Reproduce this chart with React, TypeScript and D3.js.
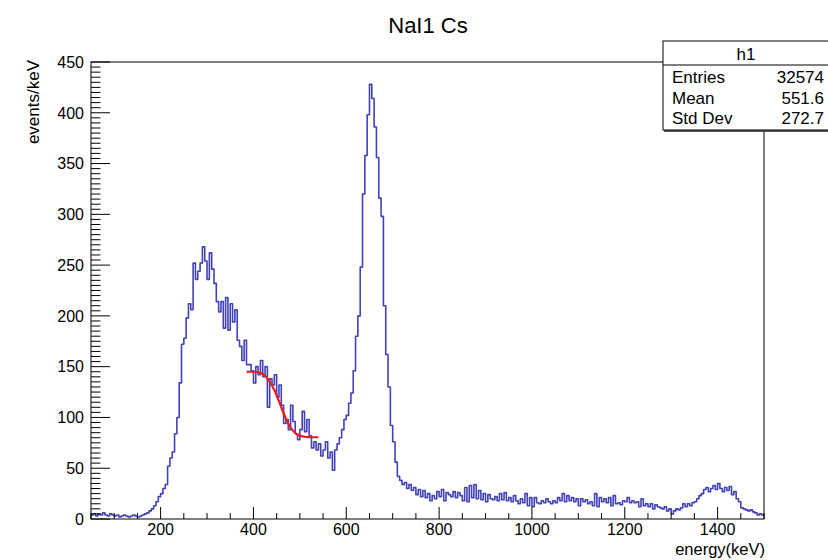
import React, { useEffect, useRef } from "react";
import * as d3 from "d3";

// histogram binning (keV)
const histMin = 50;
const histMax = 1500;
const binWidth = 5;

// bin contents, 5 keV bins starting at 50 keV
const lowCounts = [
  4, 5, 3, 5, 4, 6, 4, 3, 5, 4,
  3, 4, 2, 3, 4, 3, 2, 3, 4, 3,
  2, 3, 4, 5, 6, 8, 10, 13, 17, 22,
];
const comptonCounts = [
  25, 30, 34, 52, 60, 66, 84, 100, 134, 172,
  178, 198, 212, 206, 252, 236, 244, 252, 268, 254,
  236, 262, 246, 232, 214, 204, 214, 188, 218, 186,
  212, 194, 206, 176, 170, 156, 176, 152, 152, 146,
  134, 150, 142, 156, 140, 150, 110, 138, 132, 142,
  120, 132, 112, 94, 98, 88, 112, 96, 84, 78,
  88, 106, 86, 98, 82, 70, 76, 68, 74, 62,
  68, 76, 60, 66, 48, 68, 74, 80, 88, 98,
];
const photopeakCounts = [
  102, 114, 124, 146, 180, 200, 248, 320, 358, 398,
  428, 414, 386, 356, 316, 298, 210, 162, 130, 92,
  76, 56, 42, 38, 34, 36, 30, 34, 28, 31,
];
const tailCounts = [
  24, 29, 22, 28, 21, 25, 18, 23, 20, 27,
  22, 29, 18, 26, 24, 22, 27, 21, 26, 23,
  18, 31, 17, 33, 21, 34, 20, 28, 19, 25,
  17, 24, 20, 19, 22, 18, 25, 19, 26, 18,
  21, 17, 23, 18, 15, 20, 16, 25, 13, 21,
  12, 21, 16, 15, 18, 16, 20, 17, 15, 18,
  16, 21, 18, 25, 17, 23, 18, 21, 17, 20,
  13, 20, 17, 19, 15, 17, 13, 25, 12, 21,
  17, 20, 16, 21, 13, 23, 15, 16, 14, 18,
  17, 21, 16, 18, 16, 17, 12, 20, 13, 15,
  12, 15, 10, 14, 12, 11, 10, 12, 8, 10,
  5, 8, 10, 9, 11, 15, 12, 15, 13, 16,
  17, 20, 23, 25, 29, 31, 27, 30, 33, 29,
  35, 30, 27, 31, 28, 32, 24, 27, 20, 17,
  11, 10, 9, 8, 9, 7, 6, 4, 5, 4,
];

// red fit curve
const fitEnergy = [385, 400, 415, 425, 435, 445, 455, 465, 475, 485, 495, 510, 525, 540];
const fitValue = [145, 145, 144, 141, 135, 127, 116, 104, 94, 87, 83, 81, 80.5, 80.5];

const xMajorTicks = [200, 400, 600, 800, 1000, 1200, 1400];
const yMajorTicks = [0, 50, 100, 150, 200, 250, 300, 350, 400, 450];

const statsTitle = "h1";
const statsLabels = ["Entries", "Mean", "Std Dev"];
const statsValues = ["32574", "551.6", "272.7"];

const font = "'Liberation Sans', Arial, Helvetica, sans-serif";

export default function App() {
  const ref = useRef<SVGSVGElement>(null);

  useEffect(() => {
    const svg = d3.select(ref.current);
    svg.selectAll("*").remove();

    const width = 828;
    const height = 560;
    const left = 91;
    const right = 764;
    const top = 62;
    const bottom = 519;

    svg.append("rect").attr("width", width).attr("height", height).attr("fill", "#fff");

    const x = d3.scaleLinear().domain([histMin, histMax]).range([left, right]);
    const y = d3.scaleLinear().domain([0, 450]).range([bottom, top]);

    const counts = [...lowCounts, ...comptonCounts, ...photopeakCounts, ...tailCounts];
    const bins = counts.map((c, i) => ({ e: histMin + i * binWidth, v: c }));
    bins.push({ e: histMin + counts.length * binWidth, v: counts[counts.length - 1] });

    // histogram outline
    const step = d3
      .line<{ e: number; v: number }>()
      .x(d => x(d.e))
      .y(d => y(d.v))
      .curve(d3.curveStepAfter);

    svg
      .append("path")
      .attr("d", step(bins))
      .attr("fill", "none")
      .attr("stroke", "#4242b8")
      .attr("stroke-width", 1.6)
      .attr("stroke-linejoin", "round");

    // fit
    const fitLine = d3
      .line<number>()
      .x((_, i) => x(fitEnergy[i]))
      .y(d => y(d))
      .curve(d3.curveMonotoneX);

    svg
      .append("path")
      .attr("d", fitLine(fitValue))
      .attr("fill", "none")
      .attr("stroke", "#f01818")
      .attr("stroke-width", 2.2);

    // frame
    svg
      .append("rect")
      .attr("x", left)
      .attr("y", top)
      .attr("width", right - left)
      .attr("height", bottom - top)
      .attr("fill", "none")
      .attr("stroke", "#000")
      .attr("stroke-width", 1);

    const axes = svg.append("g").attr("stroke", "#000").attr("stroke-width", 1);

    // x ticks, drawn inside the frame
    d3.range(histMin, histMax + 1, 50).forEach(v => {
      const major = xMajorTicks.includes(v);
      axes
        .append("line")
        .attr("x1", x(v))
        .attr("x2", x(v))
        .attr("y1", bottom)
        .attr("y2", bottom - (major ? 12 : 6));
    });

    // y ticks
    d3.range(0, 451, 5).forEach(v => {
      const major = yMajorTicks.includes(v);
      axes
        .append("line")
        .attr("x1", left)
        .attr("x2", left + (major ? 19 : 9.5))
        .attr("y1", y(v))
        .attr("y2", y(v));
    });

    svg
      .append("g")
      .selectAll("text")
      .data(xMajorTicks)
      .join("text")
      .attr("x", d => x(d))
      .attr("y", 535)
      .attr("text-anchor", "middle")
      .attr("font-family", font)
      .attr("font-size", 16)
      .text(d => d);

    svg
      .append("g")
      .selectAll("text")
      .data(yMajorTicks)
      .join("text")
      .attr("x", 84)
      .attr("y", d => y(d))
      .attr("dy", "0.36em")
      .attr("text-anchor", "end")
      .attr("font-family", font)
      .attr("font-size", 16)
      .text(d => d);

    // axis titles
    svg
      .append("text")
      .attr("x", 765)
      .attr("y", 555)
      .attr("text-anchor", "end")
      .attr("font-family", font)
      .attr("font-size", 16.5)
      .text("energy(keV)");

    svg
      .append("text")
      .attr("transform", "translate(39,60) rotate(-90)")
      .attr("text-anchor", "end")
      .attr("font-family", font)
      .attr("font-size", 17)
      .text("events/keV");

    // title
    svg
      .append("text")
      .attr("x", 428)
      .attr("y", 33)
      .attr("text-anchor", "middle")
      .attr("font-family", font)
      .attr("font-size", 22)
      .text("NaI1 Cs");

    // stats box
    const box = svg.append("g");
    box
      .append("rect")
      .attr("x", 664)
      .attr("y", 42)
      .attr("width", 170)
      .attr("height", 90)
      .attr("fill", "#555");
    box
      .append("rect")
      .attr("x", 663)
      .attr("y", 41)
      .attr("width", 170)
      .attr("height", 89)
      .attr("fill", "#fff")
      .attr("stroke", "#000")
      .attr("stroke-width", 1);
    box
      .append("line")
      .attr("x1", 663)
      .attr("x2", 828)
      .attr("y1", 65)
      .attr("y2", 65)
      .attr("stroke", "#000");
    box
      .append("text")
      .attr("x", 746)
      .attr("y", 60)
      .attr("text-anchor", "middle")
      .attr("font-family", font)
      .attr("font-size", 17)
      .text(statsTitle);

    statsLabels.forEach((label, i) => {
      const ty = 83 + i * 20.6;
      box
        .append("text")
        .attr("x", 672)
        .attr("y", ty)
        .attr("font-family", font)
        .attr("font-size", 17)
        .text(label);
      box
        .append("text")
        .attr("x", 824)
        .attr("y", ty)
        .attr("text-anchor", "end")
        .attr("font-family", font)
        .attr("font-size", 17)
        .text(statsValues[i]);
    });
  }, []);

  return (
    <svg
      ref={ref}
      width={828}
      height={560}
      style={{ position: "absolute", left: 0, top: 0 }}
    />
  );
}
